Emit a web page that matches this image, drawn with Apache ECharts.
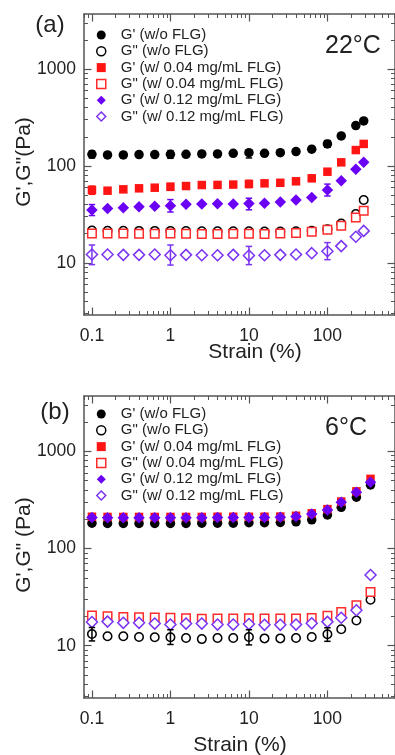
<!DOCTYPE html>
<html>
<head>
<meta charset="utf-8">
<script src="https://cdn.jsdelivr.net/npm/echarts@6/dist/echarts.min.js"></script>
<style>
html,body{margin:0;padding:0;background:#fff;}
#chart{width:395px;height:755px;}
</style>
</head>
<body>
<div id="chart"></div>
<script>
// ---------------- data ----------------
var strainA = [0.1, 0.158, 0.251, 0.398, 0.631, 1, 1.58, 2.51, 3.98, 6.31, 10, 15.8, 25.1, 39.8, 63.1, 100, 150, 230, 290];
var strainB = [0.1, 0.158, 0.251, 0.398, 0.631, 1, 1.58, 2.51, 3.98, 6.31, 10, 15.8, 25.1, 39.8, 63.1, 100, 150, 234, 354];

// (a) 22 °C
var a_Gp_none  = [132, 130, 130, 131, 131, 132, 132, 133, 133, 135, 137, 135, 137, 141, 149, 169, 204, 261, 292];
var a_Gpp_none = [21.6, 21.5, 21.5, 21.4, 21.4, 21.4, 21.3, 21.2, 21.2, 21.2, 21.2, 21.1, 21.1, 21.2, 21.5, 22.3, 25.5, 31.9, 44.5];
var a_Gp_004   = [56.5, 55.6, 57.4, 58.8, 59.7, 61.1, 62.1, 63.6, 63.8, 64.3, 65.2, 66.2, 67.1, 69.5, 74.6, 87.3, 109, 146, 169];
var a_Gpp_004  = [20.1, 20.1, 20.1, 20.0, 20.0, 20.1, 20.0, 19.9, 19.9, 20.0, 20.0, 19.9, 20.1, 20.3, 20.9, 22.0, 24.2, 29.4, 34.5];
var a_Gp_012   = [35.1, 36.5, 37.0, 37.9, 38.5, 38.9, 40.4, 40.6, 40.8, 40.6, 40.9, 41.3, 42.6, 44.5, 47.4, 56.5, 70.5, 92.5, 109];
var a_Gpp_012  = [12.2, 12.2, 12.1, 12.1, 12.2, 12.0, 12.1, 12.0, 12.0, 12.1, 11.9, 12.0, 12.1, 12.2, 12.6, 13.2, 14.9, 18.6, 21.4];
// error bars [strain, low, high]
var a_err_Gp_none = [[0.1, 121, 143], [1, 120, 144], [10, 121, 146], [100, 156, 183]];
var a_err_Gp_004  = [[0.1, 51, 62], [1, 56, 66], [10, 60, 71]];
var a_err_Gp_012  = [[0.1, 30.8, 40], [1, 33.5, 45], [10, 35.3, 46.5], [100, 49, 65]];
var a_err_Gpp_012 = [[0.1, 9.6, 15.3], [1, 9.5, 15.3], [10, 9.6, 14.8], [100, 10.8, 16.2]];

// (b) 6 °C
var b_Gp_none  = [182, 181, 181, 181, 181, 181, 181, 182, 182, 182, 184, 184, 185, 188, 197, 221, 265, 337, 451];
var b_Gpp_none = [13.2, 12.5, 12.5, 12.3, 12.2, 12.2, 12.0, 11.7, 12.0, 12.0, 12.3, 11.9, 11.9, 12.0, 12.3, 13.1, 14.8, 18.2, 29.7];
var b_Gp_004   = [212, 211, 211, 211, 211, 211, 211, 211, 212, 212, 212, 212, 213, 217, 230, 254, 304, 387, 520];
var b_Gpp_004  = [20.5, 20.1, 19.8, 19.6, 19.5, 19.4, 19.2, 18.9, 19.0, 19.0, 19.2, 19.0, 19.0, 19.0, 19.3, 20.3, 22.2, 26.1, 35.6];
var b_Gp_012   = [208, 207, 207, 207, 207, 207, 207, 207, 208, 208, 208, 208, 209, 213, 226, 249, 299, 379, 481];
var b_Gpp_012  = [17.5, 17.7, 17.2, 17.2, 16.9, 16.5, 16.9, 16.9, 16.5, 16.5, 16.7, 16.4, 16.4, 16.5, 17.0, 17.6, 19.4, 23.2, 53.4];
var b_err_Gpp_none = [[0.1, 11.2, 15.4], [1, 10.3, 14.6], [10, 10.2, 14.6], [100, 11.1, 15.3]];

// tick labels
var xMajor = [0.1, 1, 10, 100];
var yMajor = [10, 100, 1000];

var names = ["G' (w/o FLG)", 'G" (w/o FLG)', "G' (w/ 0.04 mg/mL FLG)", 'G" (w/ 0.04 mg/mL FLG)', "G' (w/ 0.12 mg/mL FLG)", 'G" (w/ 0.12 mg/mL FLG)'];

// ---------------- styling ----------------
var X_MIN = 0.0792, X_MAX = 726, Y_MIN = 2.9, Y_MAX = 3700;
var FONT = 'Liberation Sans, Arial, Helvetica, sans-serif';
var AX = '#555';
var BLACK = '#000000', RED = '#ff1414', RED_O = '#ff2a2a', PURP = '#6a00f4', PURP_O = '#7a33f0';

function minorList(decades) {
  var out = [];
  decades.forEach(function (d) { for (var k = 2; k <= 9; k++) out.push(+(k * d).toPrecision(6)); });
  return out;
}
var xMinor = minorList([0.01, 0.1, 1, 10, 100]).filter(function (v) { return v > X_MIN && v < X_MAX; });
var yMinor = minorList([1, 10, 100, 1000]).filter(function (v) { return v > Y_MIN && v < Y_MAX; });

function fmt(v) { return String(+(+v).toPrecision(6)); }

function makeAxes(dim, gi) {
  var isX = dim === 'x';
  var pos = isX ? ['bottom', 'top'] : ['left', 'right'];
  var major = isX ? xMajor : yMajor, minor = isX ? xMinor : yMinor;
  var out = [];
  pos.forEach(function (p, pi) {
    var base = {
      type: 'log', gridIndex: gi, position: p,
      min: isX ? X_MIN : Y_MIN, max: isX ? X_MAX : Y_MAX,
      splitLine: { show: false }, minorTick: { show: false }
    };
    out.push(Object.assign({}, base, {
      axisLine: { show: true, onZero: false, lineStyle: { color: AX, width: 1.5 } },
      axisTick: { show: true, inside: true, length: 7.5, customValues: major, lineStyle: { color: AX, width: 1.2 } },
      axisLabel: pi === 0 ? { show: true, customValues: major, formatter: fmt, fontSize: 17.5, color: '#222', fontFamily: FONT, margin: isX ? 12 : 8 } : { show: false }
    }));
    out.push(Object.assign({}, base, {
      axisLine: { show: false, onZero: false },
      axisTick: { show: true, inside: true, length: 4, customValues: minor, lineStyle: { color: AX, width: 1 } },
      axisLabel: { show: false }
    }));
  });
  return out;
}

function zip(xs, ys) { return xs.map(function (x, i) { return [x, ys[i]]; }); }

var styles = [
  { symbol: 'circle', size: 9.5, fill: BLACK, stroke: BLACK },
  { symbol: 'circle', size: 8.5, fill: '#fff', stroke: BLACK },
  { symbol: 'rect', size: 8.5, fill: RED, stroke: RED },
  { symbol: 'rect', size: 8.5, fill: '#fff', stroke: RED_O },
  { symbol: 'diamond', size: 11.5, fill: PURP, stroke: PURP },
  { symbol: 'diamond', size: 11, fill: '#fff', stroke: PURP_O }
];

function scatter(idx, gi, xs, ys) {
  var s = styles[idx];
  return {
    type: 'scatter', name: names[idx], xAxisIndex: gi * 4, yAxisIndex: gi * 4,
    symbol: s.symbol, symbolSize: s.size, data: zip(xs, ys), z: 3 + idx * 0.01,
    itemStyle: { color: s.fill, borderColor: s.stroke, borderWidth: s.fill === '#fff' ? 1.5 : 0, opacity: 1 },
    emphasis: { disabled: true }, animation: false
  };
}

function errRender(params, api) {
  var x = api.value(0), lo = api.value(1), hi = api.value(2);
  var p1 = api.coord([x, lo]), p2 = api.coord([x, hi]);
  var w = 3.2;
  var st = { stroke: api.visual('color'), lineWidth: 1.5 };
  return {
    type: 'group', children: [
      { type: 'line', shape: { x1: p1[0], y1: p1[1], x2: p2[0], y2: p2[1] }, style: st },
      { type: 'line', shape: { x1: p1[0] - w, y1: p1[1], x2: p1[0] + w, y2: p1[1] }, style: st },
      { type: 'line', shape: { x1: p2[0] - w, y1: p2[1], x2: p2[0] + w, y2: p2[1] }, style: st }
    ]
  };
}
function errSeries(gi, data, color) {
  return {
    type: 'custom', name: 'err', xAxisIndex: gi * 4, yAxisIndex: gi * 4, z: 4,
    renderItem: errRender, data: data, encode: { x: 0, y: [1, 2] },
    itemStyle: { color: color }, silent: true, animation: false
  };
}

function legendFor(top) {
  return {
    show: true, orient: 'vertical', left: 96, top: top, padding: 0,
    itemWidth: 9, itemHeight: 9, itemGap: 0.3, selectedMode: false,
    textStyle: { fontSize: 15, color: '#222', fontFamily: FONT, lineHeight: 16, padding: [0, 0, 0, 10] },
    data: names.map(function (n, i) {
      var s = styles[i];
      return { name: n, icon: s.symbol, itemStyle: { color: s.fill, borderColor: s.stroke, borderWidth: s.fill === '#fff' ? 1.5 : 0 } };
    })
  };
}

function txt(x, y, text, size, align, rot) {
  return {
    type: 'text', x: x, y: y, rotation: rot || 0,
    style: { text: text, fontSize: size, fontFamily: FONT, fill: '#222', align: align || 'center', verticalAlign: 'middle' }
  };
}

var option = {
  animation: false,
  backgroundColor: '#fff',
  grid: [
    { left: 84, top: 14, width: 313, height: 301 },
    { left: 84, top: 396, width: 313, height: 302 }
  ],
  xAxis: makeAxes('x', 0).concat(makeAxes('x', 1)),
  yAxis: makeAxes('y', 0).concat(makeAxes('y', 1)),
  legend: [legendFor(27), legendFor(406)],
  graphic: [
    txt(50, 25, '(a)', 24),
    txt(325, 46, '22°C', 25, 'left'),
    txt(24, 162, 'G\',G"(Pa)', 21, 'center', Math.PI / 2),
    txt(255, 352, 'Strain (%)', 21),
    txt(55, 412, '(b)', 24),
    txt(325, 428, '6°C', 25, 'left'),
    txt(24, 545, 'G\',G" (Pa)', 21, 'center', Math.PI / 2),
    txt(240, 745, 'Strain (%)', 21)
  ],
  series: [
    scatter(0, 0, strainA, a_Gp_none),
    scatter(1, 0, strainA, a_Gpp_none),
    scatter(2, 0, strainA, a_Gp_004),
    scatter(3, 0, strainA, a_Gpp_004),
    scatter(4, 0, strainA, a_Gp_012),
    scatter(5, 0, strainA, a_Gpp_012),
    errSeries(0, a_err_Gp_none, BLACK),
    errSeries(0, a_err_Gp_004, RED),
    errSeries(0, a_err_Gp_012, PURP),
    errSeries(0, a_err_Gpp_012, PURP_O),
    scatter(0, 1, strainB, b_Gp_none),
    scatter(1, 1, strainB, b_Gpp_none),
    scatter(2, 1, strainB, b_Gp_004),
    scatter(3, 1, strainB, b_Gpp_004),
    scatter(4, 1, strainB, b_Gp_012),
    scatter(5, 1, strainB, b_Gpp_012),
    errSeries(1, b_err_Gpp_none, BLACK)
  ]
};

var chart = echarts.init(document.getElementById('chart'), null, { renderer: 'canvas' });
chart.setOption(option);
</script>
</body>
</html>
